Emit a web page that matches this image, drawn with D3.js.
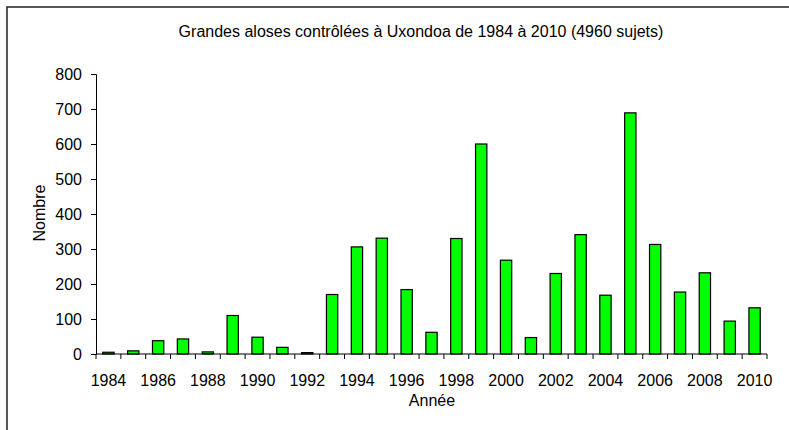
<!DOCTYPE html>
<html>
<head>
<meta charset="utf-8">
<script src="https://cdn.jsdelivr.net/npm/d3@7"></script>
<style>
  body { margin: 0; background: #fff; }
  text { font-family: "Liberation Sans", Arial, sans-serif; fill: #000; }
</style>
</head>
<body>
<div id="chart"></div>
<script>
// Données
const years = d3.range(1984, 2011);
const counts = [5, 9, 38, 43, 6, 110, 48, 19, 4, 170, 306, 331, 184, 62, 330, 600, 268, 47, 230, 341, 168, 689, 313, 177, 232, 94, 132];
const yTicks = [0, 100, 200, 300, 400, 500, 600, 700, 800];
const titleText = "Grandes aloses contrôlées à Uxondoa de 1984 à 2010 (4960 sujets)";

const width = 789, height = 430;
const margin = { top: 74, right: 22, bottom: 76, left: 96 };

const svg = d3.select("#chart").append("svg")
  .attr("width", width)
  .attr("height", height);

// cadre extérieur
svg.append("rect")
  .attr("x", 7).attr("y", 7)
  .attr("width", 900).attr("height", 600)
  .attr("fill", "none")
  .attr("stroke", "#222")
  .attr("stroke-width", 1.5);

const x = d3.scaleBand()
  .domain(years)
  .range([margin.left, width - margin.right])
  .paddingInner(0.545)
  .paddingOuter(0.2725);

const y = d3.scaleLinear()
  .domain([0, 800])
  .range([height - margin.bottom, margin.top]);

const band = (width - margin.right - margin.left) / years.length;

// barres
svg.append("g")
  .selectAll("rect")
  .data(counts)
  .join("rect")
  .attr("x", (d, i) => x(years[i]))
  .attr("y", d => y(d))
  .attr("width", x.bandwidth())
  .attr("height", d => y(0) - y(d))
  .attr("fill", "#00ff00")
  .attr("stroke", "#000")
  .attr("stroke-width", 1.2);

// axe Y
const yAxis = svg.append("g")
  .attr("transform", `translate(${margin.left},0)`)
  .call(d3.axisLeft(y).tickValues(yTicks).tickSize(5).tickPadding(9));
yAxis.selectAll("text").style("font-size", "16px");
yAxis.select(".domain").attr("stroke", "#000");

// axe X : graduations entre les catégories
const xg = svg.append("g");
xg.append("line")
  .attr("x1", margin.left).attr("x2", width - margin.right)
  .attr("y1", y(0)).attr("y2", y(0))
  .attr("stroke", "#000");
xg.selectAll("line.tick")
  .data(d3.range(years.length + 1))
  .join("line")
  .attr("class", "tick")
  .attr("x1", i => margin.left + i * band)
  .attr("x2", i => margin.left + i * band)
  .attr("y1", y(0)).attr("y2", y(0) + 5)
  .attr("stroke", "#000");
xg.selectAll("text")
  .data(years.filter((d, i) => i % 2 === 0))
  .join("text")
  .attr("x", d => x(d) + x.bandwidth() / 2)
  .attr("y", y(0) + 32)
  .attr("text-anchor", "middle")
  .style("font-size", "16px")
  .text(d => d);

// titres
svg.append("text")
  .attr("x", 421).attr("y", 37)
  .attr("text-anchor", "middle")
  .style("font-size", "16px")
  .text(titleText);

svg.append("text")
  .attr("x", 432).attr("y", 406)
  .attr("text-anchor", "middle")
  .style("font-size", "16px")
  .text("Année");

svg.append("text")
  .attr("transform", `translate(45,213) rotate(-90)`)
  .attr("text-anchor", "middle")
  .style("font-size", "16px")
  .text("Nombre");
</script>
</body>
</html>
